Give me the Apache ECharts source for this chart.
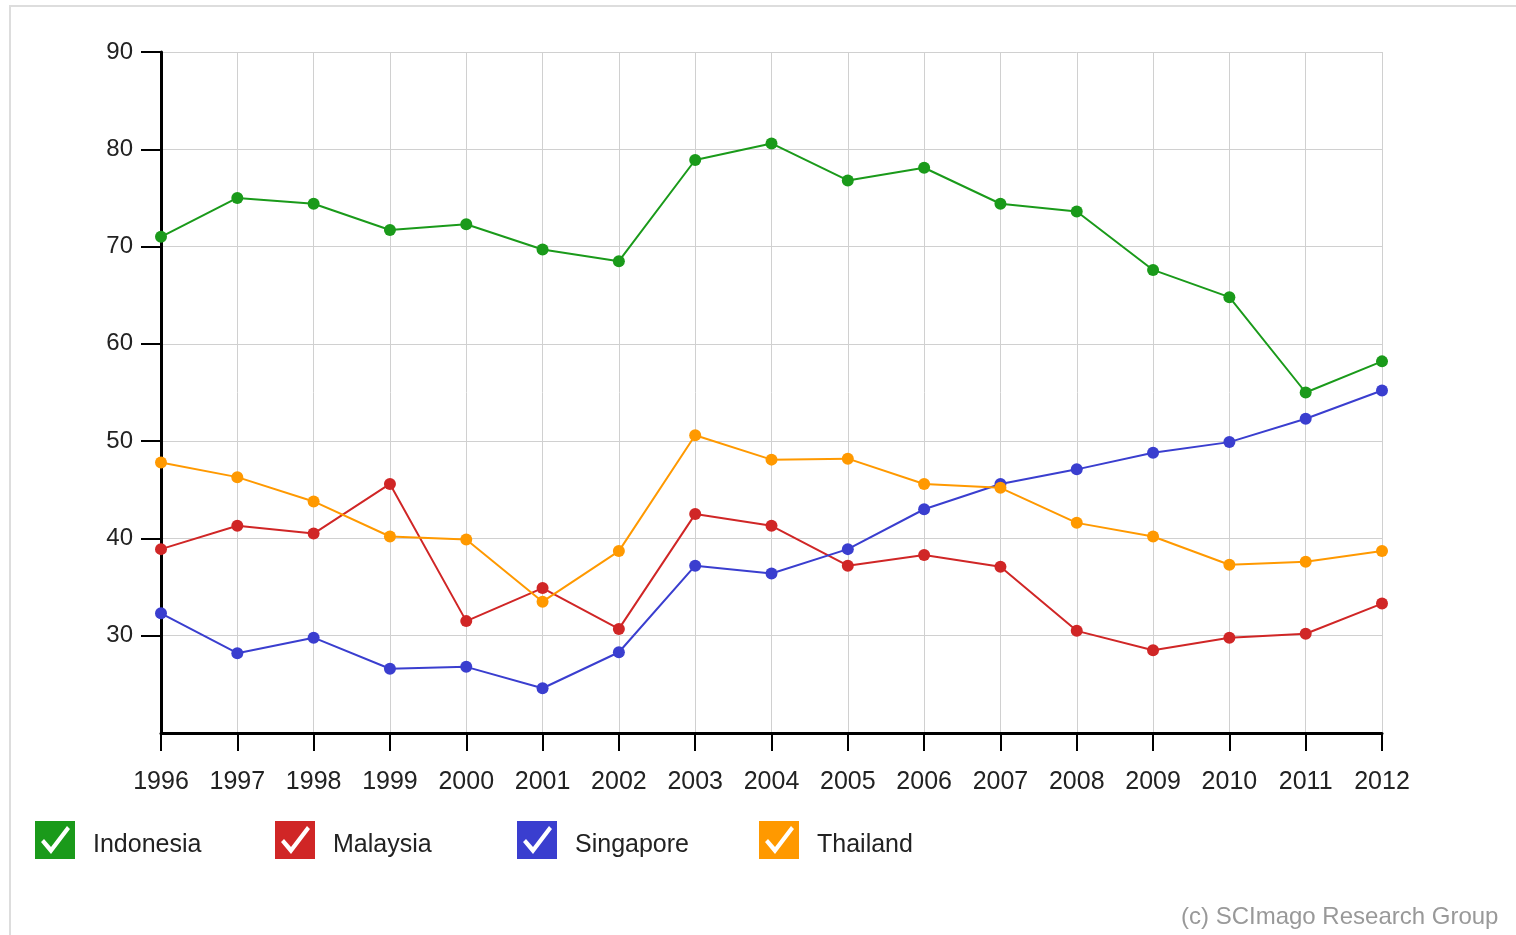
<!DOCTYPE html>
<html>
<head>
<meta charset="utf-8">
<script src="https://cdn.jsdelivr.net/npm/echarts@6/dist/echarts.min.js"></script>
<style>
  html, body { margin: 0; padding: 0; background: #fff; }
  #chart { width: 1516px; height: 935px; }
</style>
</head>
<body>
<div id="chart"></div>
<script>
// years on the x axis
var years = ['1996','1997','1998','1999','2000','2001','2002','2003','2004','2005','2006','2007','2008','2009','2010','2011','2012'];

// values
var indonesia = [71.0, 75.0, 74.4, 71.7, 72.3, 69.7, 68.5, 78.9, 80.6, 76.8, 78.1, 74.4, 73.6, 67.6, 64.8, 55.0, 58.2];
var malaysia  = [38.9, 41.3, 40.5, 45.6, 31.5, 34.9, 30.7, 42.5, 41.3, 37.2, 38.3, 37.1, 30.5, 28.5, 29.8, 30.2, 33.3];
var singapore = [32.3, 28.2, 29.8, 26.6, 26.8, 24.6, 28.3, 37.2, 36.4, 38.9, 43.0, 45.6, 47.1, 48.8, 49.9, 52.3, 55.2];
var thailand  = [47.8, 46.3, 43.8, 40.2, 39.9, 33.5, 38.7, 50.6, 48.1, 48.2, 45.6, 45.2, 41.6, 40.2, 37.3, 37.6, 38.7];

var countries = ['Indonesia', 'Malaysia', 'Singapore', 'Thailand'];
var colors = ['#1a9a1a', '#d02626', '#3a3ecf', '#ff9900'];

var yMin = 20, yMax = 90, yStep = 10;

var font = 'Liberation Sans, Arial, sans-serif';

// checkbox icon: square with a check mark cut out
var checkIcon = 'path://M0 0L40 0L40 38L0 38Z M16 33L35 8L32 5L16 26L9 18L6 21Z';

var myChart = echarts.init(document.getElementById('chart'));

function makeSeries(name, data, color) {
    return {
        name: name,
        type: 'line',
        data: data,
        symbol: 'circle',
        symbolSize: 12,
        lineStyle: { color: color, width: 2 },
        itemStyle: { color: color },
        emphasis: { disabled: true }
    };
}

// one legend per country so each sits at its own spot
var legendLeft = [35, 275, 517, 759];
var legends = countries.map(function (name, i) {
    return {
        left: legendLeft[i],
        top: 821,
        padding: 0,
        icon: checkIcon,
        itemWidth: 40,
        itemHeight: 38,
        selectedMode: false,
        formatter: '{t|{name}}',
        textStyle: {
            rich: {
                t: {
                    fontFamily: font,
                    fontSize: 25,
                    color: '#222',
                    padding: [10, 0, 0, 13]
                }
            }
        },
        data: [name]
    };
});

var option = {
    animation: false,
    color: colors,
    grid: {
        left: 161,
        right: 134,
        top: 52,
        bottom: 202
    },
    legend: legends,
    xAxis: {
        type: 'category',
        boundaryGap: false,
        data: years,
        axisLine: { lineStyle: { color: '#000', width: 3 } },
        axisTick: { alignWithLabel: true, length: 18, lineStyle: { color: '#000', width: 2 } },
        axisLabel: {
            margin: 37,
            fontFamily: font,
            fontSize: 25,
            color: '#222'
        },
        splitLine: { show: true, lineStyle: { color: '#d0d0d0', width: 1 } }
    },
    yAxis: {
        type: 'value',
        min: yMin,
        max: yMax,
        interval: yStep,
        axisLine: { show: true, lineStyle: { color: '#000', width: 3 } },
        axisTick: { show: true, length: 20, lineStyle: { color: '#000', width: 2 } },
        axisLabel: {
            showMinLabel: false,
            margin: 28,
            fontFamily: font,
            fontSize: 24,
            color: '#222'
        },
        splitLine: { show: true, lineStyle: { color: '#d0d0d0', width: 1 } }
    },
    graphic: [
        {
            type: 'rect',
            silent: true,
            z: -1,
            shape: { x: 10, y: 6, width: 1700, height: 1100 },
            style: { fill: 'none', stroke: '#dddddd', lineWidth: 2 }
        },
        {
            type: 'text',
            left: 1181,
            top: 905,
            style: {
                text: '(c) SCImago Research Group',
                fontFamily: font,
                fontSize: 24,
                fill: '#999'
            }
        }
    ],
    series: countries.map(function (name, i) {
        return makeSeries(name, [indonesia, malaysia, singapore, thailand][i], colors[i]);
    })
};

myChart.setOption(option);
</script>
</body>
</html>
